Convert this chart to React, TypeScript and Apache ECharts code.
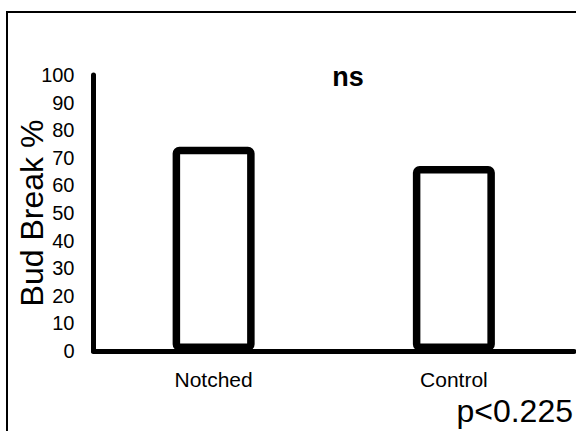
import React, { useEffect, useRef } from "react";
import * as echarts from "echarts";

// Bud break percentage by treatment
const categories = ["Notched", "Control"];
const budBreak = [74, 67];
const yTicks = { min: 0, max: 100, interval: 10 };
const significance = "ns";
const pValue = "p<0.225";

const FONT = "Liberation Sans, Arial, sans-serif";

export default function App() {
  const ref = useRef<HTMLDivElement>(null);

  useEffect(() => {
    if (!ref.current) return;
    const chart = echarts.init(ref.current, null, { renderer: "svg" });
    chart.setOption({
      animation: false,
      backgroundColor: "#fff",
      grid: {
        left: 93.5,
        right: 2,
        top: 75,
        bottom: 80,
        containLabel: false,
        outerBoundsMode: "none",
      },
      xAxis: {
        type: "category",
        data: categories,
        axisLine: { show: true, lineStyle: { color: "#000", width: 5 } },
        axisTick: { show: false },
        axisLabel: { color: "#000", fontSize: 21, fontFamily: FONT, margin: 18 },
      },
      yAxis: {
        type: "value",
        min: yTicks.min,
        max: yTicks.max,
        interval: yTicks.interval,
        name: "Bud Break %",
        nameLocation: "middle",
        nameGap: 46,
        nameMoveOverlap: false,
        nameRotate: 90,
        nameTextStyle: { color: "#000", fontSize: 32, fontFamily: FONT },
        axisLine: { show: true, lineStyle: { color: "#000", width: 5 } },
        axisTick: { show: false },
        splitLine: { show: false },
        axisLabel: { color: "#000", fontSize: 20, fontFamily: FONT, margin: 19 },
      },
      series: [
        {
          type: "bar",
          data: budBreak,
          barWidth: 82,
          itemStyle: {
            color: "#fff",
            borderColor: "#000",
            borderWidth: 7.5,
            borderRadius: 3,
          },
        },
      ],
      graphic: [
        {
          type: "polyline",
          shape: { points: [[7, 431], [7, 12], [576, 12]] },
          style: { stroke: "#000", lineWidth: 2, fill: null },
          silent: true,
        },
        {
          type: "text",
          x: 348,
          y: 77,
          style: {
            text: significance,
            fill: "#000",
            font: `bold 27px ${FONT}`,
            textAlign: "center",
            textVerticalAlign: "middle",
          },
        },
        {
          type: "text",
          x: 573,
          y: 411,
          style: {
            text: pValue,
            fill: "#000",
            font: `32px ${FONT}`,
            textAlign: "right",
            textVerticalAlign: "middle",
          },
        },
      ],
    });
    return () => chart.dispose();
  }, []);

  return (
    <div
      ref={ref}
      style={{ position: "fixed", left: 0, top: 0, width: 576, height: 431 }}
    />
  );
}
